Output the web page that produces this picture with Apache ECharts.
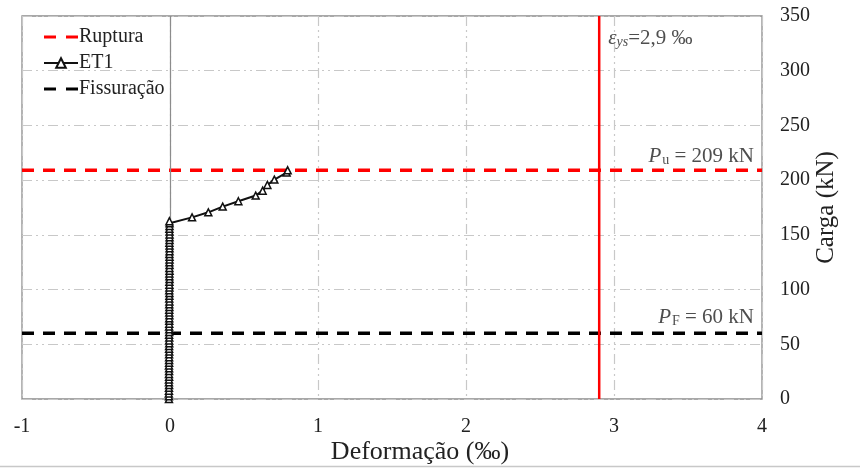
<!DOCTYPE html>
<html>
<head>
<meta charset="utf-8">
<script src="https://cdn.jsdelivr.net/npm/echarts@6/dist/echarts.min.js"></script>
<style>
  html, body { margin: 0; padding: 0; background: #fff; }
  #chart { width: 860px; height: 470px; }
</style>
</head>
<body>
<div id="chart"></div>
<script>
// Load (kN) and strain (‰) readings for specimen ET1
const et1Load = [0, 2.5, 5.1, 7.6, 10.2, 12.7, 15.3, 17.8, 20.4, 22.9, 25.5, 28.0, 30.6, 33.1, 35.7,
  38.2, 40.8, 43.3, 45.9, 48.4, 51.0, 53.5, 56.1, 58.6, 61.2, 63.7, 66.3, 68.8, 71.4, 73.9, 76.5,
  79.0, 81.6, 84.1, 86.7, 89.2, 91.8, 94.3, 96.9, 99.4, 102.0, 104.5, 107.1, 109.6, 112.2, 114.7,
  117.3, 119.8, 122.4, 124.9, 127.5, 130.0, 132.6, 135.1, 137.7, 140.2, 142.8, 145.3, 147.9, 150.4,
  153.0, 155.5, 158.1, 160.6, 162.4, 166.0, 170.6, 175.8, 180.7, 185.9, 190.4, 195.6, 200.5, 206.9, 209.0];
const et1Strain = [-0.007, -0.007, -0.008, -0.007, -0.007, -0.006, -0.007, -0.007, -0.006, -0.007, -0.006, -0.006, -0.007, -0.006, -0.006,
  -0.006, -0.006, -0.005, -0.006, -0.006, -0.005, -0.006, -0.005, -0.006, -0.005, -0.005, -0.006, -0.005, -0.005, -0.005, -0.004,
  -0.005, -0.005, -0.004, -0.005, -0.004, -0.005, -0.004, -0.004, -0.005, -0.004, -0.004, -0.004, -0.003, -0.004, -0.004,
  -0.003, -0.004, -0.003, -0.004, -0.003, -0.003, -0.004, -0.003, -0.003, -0.003, -0.004, -0.003, -0.003, -0.003,
  -0.003, -0.004, -0.003, -0.003, -0.004, 0.149, 0.259, 0.356, 0.462, 0.579, 0.626, 0.658, 0.705, 0.788, 0.795];

// Reference levels
const ruptureLoad = 209;      // P_u (kN)
const crackingLoad = 60;      // P_F (kN)
const yieldStrain = 2.9;      // ε_ys (‰)

// Axis ranges and ticks
const xMin = -1, xMax = 4, xStep = 1;
const yMin = 0, yMax = 350, yStep = 50;

const serif = '"Liberation Serif", "Times New Roman", serif';
const gridDash = [10, 4, 2, 4, 2, 4];
const lineDash = [12, 9];
// two short bars used as the legend key of the dashed reference lines
const dashIcon = 'path://M0,0 M34,12 M0,4.5 H12 V7.5 H0 Z M22,4.5 H34 V7.5 H22 Z';

const richSub = (italicMain) => ({
  p: { fontFamily: serif, fontStyle: italicMain ? 'italic' : 'normal', fontSize: 21, color: '#222', verticalAlign: 'bottom', lineHeight: 24 },
  s: { fontFamily: serif, fontSize: 14, color: '#222', verticalAlign: 'bottom', lineHeight: 15, padding: [9, 0, 0, 1] },
  t: { fontFamily: serif, fontSize: 21, color: '#222', verticalAlign: 'bottom', lineHeight: 24 }
});

const chart = echarts.init(document.getElementById('chart'), null, { renderer: 'canvas' });

chart.setOption({
  animation: false,
  backgroundColor: '#ffffff',
  textStyle: { fontFamily: serif },
  grid: {
    left: 22, right: 98, top: 16, bottom: 71,
    containLabel: false, outerBoundsMode: 'none',
    show: true, borderColor: '#8c8c8c', borderWidth: 1.3
  },
  legend: {
    data: [
      { name: 'Ruptura', icon: dashIcon },
      { name: 'ET1' },
      { name: 'Fissuração', icon: dashIcon }
    ],
    orient: 'vertical',
    left: 38,
    top: 22,
    itemWidth: 34,
    itemHeight: 12,
    itemGap: 6,
    textStyle: { fontFamily: serif, fontSize: 20, color: '#222', padding: [0, 0, 0, -4] }
  },
  xAxis: {
    type: 'value',
    min: xMin, max: xMax, interval: xStep,
    name: 'Deformação (‰)',
    nameLocation: 'middle',
    nameGap: 40,
    nameMoveOverlap: false,
    nameTextStyle: { fontFamily: serif, fontSize: 26, color: '#222', padding: [0, 0, 0, 56] },
    axisLine: { show: false },
    axisTick: { show: false },
    axisLabel: { fontFamily: serif, fontSize: 20, color: '#222', margin: 18 },
    splitLine: { show: true, lineStyle: { color: '#c8c8c8', width: 1.2, type: gridDash } }
  },
  yAxis: {
    type: 'value',
    position: 'right',
    min: yMin, max: yMax, interval: yStep,
    name: 'Carga (kN)',
    nameLocation: 'middle',
    nameRotate: 90,
    nameGap: 52,
    nameMoveOverlap: false,
    nameTextStyle: { fontFamily: serif, fontSize: 25, color: '#222' },
    axisLine: { show: false },
    axisTick: { show: false },
    axisLabel: { fontFamily: serif, fontSize: 20, color: '#222', margin: 18 },
    splitLine: { show: true, lineStyle: { color: '#c8c8c8', width: 1.2, type: gridDash } }
  },
  series: [
    {
      name: 'Ruptura',
      type: 'line',
      data: [[xMin, ruptureLoad], [xMax, ruptureLoad]],
      symbol: 'none',
      lineStyle: { color: '#ff0000', width: 3.5, type: lineDash },
      itemStyle: { color: '#ff0000' },
      z: 4,
      silent: true
    },
    {
      name: 'ET1',
      type: 'line',
      data: et1Strain.map((s, i) => [s, et1Load[i]]),
      symbol: 'triangle',
      symbolSize: 7,
      showAllSymbol: true,
      lineStyle: { color: '#111', width: 2 },
      itemStyle: { color: '#fff', borderColor: '#111', borderWidth: 1.5 },
      z: 5,
      markLine: {
        silent: true,
        symbol: 'none',
        label: { show: false },
        lineStyle: { color: '#8c8c8c', width: 1.2, type: 'solid' },
        data: [{ xAxis: 0 }]
      }
    },
    {
      name: 'Fissuração',
      type: 'line',
      data: [[xMin, crackingLoad], [xMax, crackingLoad]],
      symbol: 'none',
      lineStyle: { color: '#000', width: 3.5, type: lineDash },
      itemStyle: { color: '#000' },
      z: 4,
      silent: true
    },
    {
      name: 'yield',
      type: 'line',
      data: [[yieldStrain, yMin], [yieldStrain, yMax]],
      symbol: 'none',
      lineStyle: { color: '#ff0000', width: 2.5 },
      z: 4,
      silent: true
    },
    {
      name: 'notes',
      type: 'scatter',
      symbolSize: 0,
      silent: true,
      z: 6,
      data: [
        {
          value: [yieldStrain, yMax],
          label: {
            show: true, position: 'insideTopLeft', offset: [4, 4],
            formatter: '{e|ε}{s|ys}{t|=2,9 ‰}',
            rich: {
              e: { fontFamily: serif, fontStyle: 'italic', fontSize: 21, color: '#222', verticalAlign: 'bottom', lineHeight: 24 },
              s: { fontFamily: serif, fontStyle: 'italic', fontSize: 14, color: '#222', verticalAlign: 'bottom', lineHeight: 15, padding: [9, 0, 0, 0] },
              t: { fontFamily: serif, fontSize: 21, color: '#222', verticalAlign: 'bottom', lineHeight: 24 }
            }
          }
        },
        {
          value: [xMax, ruptureLoad],
          label: {
            show: true, position: 'left', offset: [-3, -15], align: 'right',
            formatter: '{p|P}{s|u}{t| = 209 kN}',
            rich: richSub(true)
          }
        },
        {
          value: [xMax, crackingLoad],
          label: {
            show: true, position: 'left', offset: [-3, -17], align: 'right',
            formatter: '{p|P}{s|F}{t| = 60 kN}',
            rich: richSub(true)
          }
        }
      ]
    }
  ],
  graphic: [
    { type: 'line', shape: { x1: 0, y1: 466.5, x2: 860, y2: 466.5 }, style: { stroke: '#c8c8c8', lineWidth: 1.5 }, silent: true }
  ]
});
</script>
</body>
</html>
